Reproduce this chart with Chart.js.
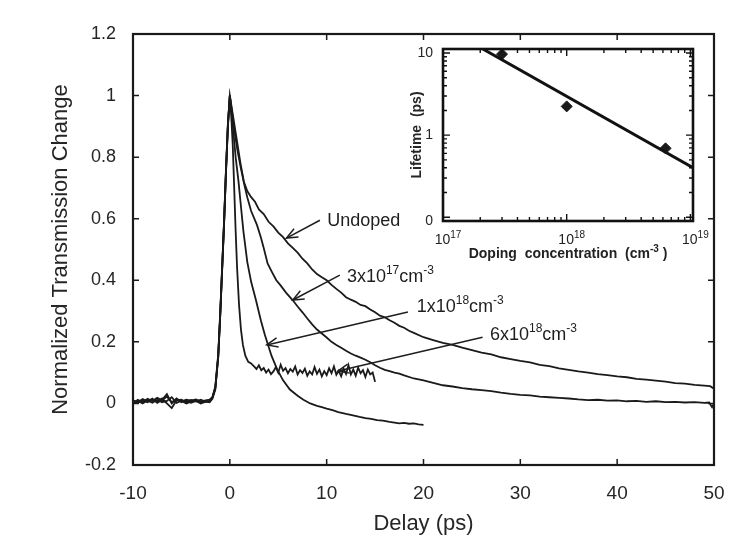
<!DOCTYPE html>
<html>
<head>
<meta charset="utf-8">
<script src="https://cdn.jsdelivr.net/npm/chart.js@4.4.1/dist/chart.umd.min.js"></script>
<style>
  body { margin: 0; background: #fff; }
  #wrap { position: relative; width: 733px; height: 541px; }
  #main { position: absolute; left: 0; top: 0; }
  #inset { position: absolute; left: 395px; top: 40px; }
</style>
</head>
<body>
<div id="wrap">
  <canvas id="main" width="733" height="541"></canvas>
  <canvas id="inset" width="320" height="225"></canvas>
</div>
<script>
// transient transmission traces, [delay ps, normalized change]
const undoped = [
  [-10,0.000],[-9.5,0.012],[-9,0.004],[-8.5,0.015],[-8,0.008],[-7.5,0.018],[-7,0.010],[-6.5,0.022],[-6,0.004],
  [-5.5,0.014],[-5,0.006],[-4.5,0.012],[-4,0.009],[-3.5,0.013],[-3,0.007],[-2.5,0.010],[-2.1,0.012],
  [-1.8,0.02],[-1.5,0.05],[-1.2,0.15],[-1.0,0.28],[-0.8,0.43],[-0.6,0.58],[-0.4,0.75],[-0.2,0.9],[0,1.0],
  [0.2,0.96],[0.5,0.9],[0.8,0.84],[1.1,0.78],[1.45,0.72],[1.8,0.69],[2.2,0.67],[2.6,0.655],[3.0,0.63],
  [3.5,0.615],[4.0,0.59],[4.5,0.575],[5.0,0.555],[5.5,0.54],[6.0,0.52],[6.5,0.505],[7.0,0.49],[7.5,0.47],
  [8.0,0.455],[8.5,0.435],[9,0.42],[9.5,0.41],[10,0.4],[10.5,0.385],[11,0.372],[11.5,0.36],[12,0.345],
  [12.5,0.337],[13,0.33],[13.5,0.32],[14,0.316],[14.5,0.305],[15,0.296],[15.5,0.285],[16,0.28],[16.5,0.27],
  [17,0.262],[17.5,0.252],[18,0.246],[18.5,0.236],[19,0.229],[20,0.215],[21,0.206],[22,0.197],[23,0.19],
  [24,0.181],[25,0.173],[26,0.165],[27,0.159],[28,0.15],[29,0.144],[30,0.138],[31,0.133],[32,0.125],
  [33,0.121],[34,0.114],[35,0.109],[36,0.104],[37,0.1],[38,0.095],[39,0.092],[40,0.088],[41,0.085],
  [42,0.08],[43,0.077],[44,0.074],[45,0.071],[46,0.066],[47,0.064],[48,0.06],[49,0.058],[49.6,0.056],[50,0.048]
];
const dop3e17 = [
  [-10,0.006],[-9.5,0.002],[-9,0.010],[-8.5,0.004],[-8,0.013],[-7.5,0.006],[-7,0.016],[-6.5,0.0],[-6,-0.015],
  [-5.5,0.01],[-5,0.012],[-4.5,0.004],[-4,0.011],[-3.5,0.006],[-3,0.012],[-2.5,0.005],[-2.1,0.008],
  [-1.8,0.02],[-1.5,0.055],[-1.2,0.16],[-1.0,0.29],[-0.8,0.44],[-0.6,0.59],[-0.4,0.76],[-0.2,0.91],[0,1.0],
  [0.2,0.95],[0.5,0.88],[0.8,0.82],[1.1,0.77],[1.5,0.71],[1.8,0.67],[2.2,0.625],[2.8,0.58],[3.2,0.54],
  [3.5,0.505],[3.9,0.455],[4.3,0.43],[4.8,0.4],[5.2,0.385],[5.8,0.36],[6.5,0.335],[7,0.315],[7.5,0.296],
  [8,0.276],[8.5,0.257],[9,0.24],[9.5,0.227],[10,0.214],[10.5,0.2],[11,0.19],[11.5,0.181],[12,0.171],
  [12.5,0.162],[13,0.155],[13.5,0.149],[14,0.142],[14.5,0.134],[15,0.124],[15.5,0.116],[16,0.109],
  [16.5,0.105],[17,0.1],[17.5,0.097],[18,0.091],[19,0.081],[20,0.075],[21,0.067],[22,0.059],[23,0.055],
  [24,0.05],[25,0.046],[26,0.043],[27,0.04],[28,0.035],[29,0.031],[30,0.028],[31,0.026],[32,0.022],
  [33,0.02],[34,0.018],[35,0.016],[36,0.013],[37,0.011],[38,0.012],[39,0.009],[40,0.01],[41,0.007],
  [42,0.008],[43,0.005],[44,0.007],[45,0.004],[46,0.005],[47,0.003],[48,0.004],[49,0.002],[49.5,0.003],
  [49.8,-0.012],[50,0.0]
];
const dop1e18 = [
  [-10,0.003],[-9.5,0.008],[-9,0.0],[-8.5,0.01],[-8,0.002],[-7.5,0.012],[-7,0.004],[-6.5,0.008],[-6,0.02],
  [-5.5,0.002],[-5,0.009],[-4.5,0.0],[-4,0.006],[-3.5,0.01],[-3,0.004],[-2.5,0.008],[-2.1,0.005],
  [-1.8,0.018],[-1.5,0.05],[-1.2,0.155],[-1.0,0.285],[-0.8,0.435],[-0.6,0.585],[-0.4,0.755],[-0.2,0.905],[0,1.0],
  [0.2,0.94],[0.4,0.87],[0.6,0.8],[0.9,0.72],[1.1,0.655],[1.4,0.56],[1.6,0.51],[1.8,0.46],[2.2,0.395],
  [2.7,0.335],[3.2,0.27],[3.6,0.225],[3.9,0.195],[4.3,0.155],[4.9,0.11],[5.5,0.075],[6.2,0.045],[7,0.025],
  [7.6,0.012],[8.3,0.0],[9,-0.008],[9.5,-0.012],[10,-0.017],[10.6,-0.022],[11.2,-0.028],[12,-0.034],
  [12.6,-0.038],[13.4,-0.044],[14,-0.048],[14.6,-0.05],[15.2,-0.054],[15.8,-0.056],[16.5,-0.06],
  [17,-0.062],[17.5,-0.065],[18,-0.063],[18.5,-0.066],[19,-0.065],[19.5,-0.068],[20,-0.07]
];
const dop6e18 = [
  [-10,0.01],[-9.5,0.004],[-9,0.014],[-8.5,0.006],[-8,0.016],[-7.5,0.002],[-7,0.012],[-6.5,0.03],[-6,0.0],
  [-5.5,0.016],[-5,0.004],[-4.5,0.01],[-4,0.002],[-3.5,0.008],[-3,0.0],[-2.5,0.006],[-2.1,0.004],
  [-1.8,0.015],[-1.5,0.045],[-1.2,0.15],[-1.0,0.28],[-0.8,0.43],[-0.6,0.58],[-0.4,0.75],[-0.2,0.9],[0,1.0],
  [0.15,0.93],[0.3,0.84],[0.45,0.7],[0.6,0.56],[0.75,0.44],[0.95,0.32],[1.15,0.24],[1.35,0.19],[1.6,0.155],
  [1.9,0.135],[2.2,0.13],[2.5,0.12],[2.75,0.112],[3.0,0.124],[3.25,0.108],[3.5,0.115],[3.75,0.1],[4.0,0.11],
  [4.25,0.095],[4.5,0.104],[4.75,0.118],[5.0,0.1],[5.25,0.126],[5.5,0.106],[5.75,0.115],[6.0,0.098],
  [6.25,0.112],[6.5,0.103],[6.75,0.12],[7.0,0.094],[7.25,0.108],[7.5,0.099],[7.75,0.113],[8.0,0.09],
  [8.25,0.104],[8.5,0.094],[8.75,0.118],[9.0,0.096],[9.25,0.11],[9.5,0.088],[9.75,0.105],[10.0,0.092],
  [10.25,0.114],[10.5,0.098],[10.75,0.12],[11.0,0.093],[11.25,0.106],[11.5,0.088],[11.75,0.112],[12.0,0.096],
  [12.25,0.124],[12.5,0.094],[12.75,0.11],[13.0,0.09],[13.25,0.116],[13.5,0.098],[13.75,0.108],[14.0,0.086],
  [14.25,0.11],[14.5,0.094],[14.75,0.1],[15.0,0.07]
];

// inset: lifetime vs doping
const dopingConc = [3e17, 1e18, 6.3e18];
const lifetimePs = [9.7, 2.24, 0.69];
const fitConc = [2.1e17, 1.05e19];
const fitLife = [11.2, 0.4];

const FONT = "'Liberation Sans', Arial, Helvetica, sans-serif";
Chart.defaults.font.family = FONT;
Chart.defaults.color = '#262626';

// arrow labels, positions in data units
const notes = [
  { parts: [['Undoped', false]], text: [10.05, 0.576], tail: [9.3, 0.595], head: [5.85, 0.537] },
  { parts: [['3x10', false], ['17', true], ['cm', false], ['-3', true]], text: [12.09, 0.394], tail: [11.36, 0.417], head: [6.5, 0.336] },
  { parts: [['1x10', false], ['18', true], ['cm', false], ['-3', true]], text: [19.3, 0.297], tail: [18.39, 0.297], head: [3.82, 0.19] },
  { parts: [['6x10', false], ['18', true], ['cm', false], ['-3', true]], text: [26.86, 0.206], tail: [26.1, 0.215], head: [11.16, 0.105] }
];

const toXY = pairs => pairs.map(p => ({x: p[0], y: p[1]}));

// draw text pieces, raising the superscript ones
function drawParts(ctx, parts, x, y, size, supSize, rise, weight) {
  parts.forEach(([s, sup]) => {
    ctx.font = (weight || '') + ' ' + (sup ? supSize : size) + 'px ' + FONT;
    ctx.fillText(s, x, sup ? y - rise : y);
    x += ctx.measureText(s).width;
  });
}
function partsWidth(ctx, parts, size, supSize, weight) {
  let w = 0;
  parts.forEach(([s, sup]) => {
    ctx.font = (weight || '') + ' ' + (sup ? supSize : size) + 'px ' + FONT;
    w += ctx.measureText(s).width;
  });
  return w;
}

//box + inward ticks for the main plot
const mainFrame = {
  id: 'mainFrame',
  afterDraw(chart) {
    const {ctx, chartArea: a, scales: {x, y}} = chart;
    ctx.save();
    ctx.strokeStyle = '#1a1a1a';
    ctx.lineWidth = 1.5;
    x.ticks.forEach(t => {
      const p = x.getPixelForValue(t.value);
      if (p <= a.left + 1 || p >= a.right - 1) return;
      ctx.beginPath();
      ctx.moveTo(p, a.bottom); ctx.lineTo(p, a.bottom - 6);
      ctx.moveTo(p, a.top); ctx.lineTo(p, a.top + 6);
      ctx.stroke();
    });
    y.ticks.forEach(t => {
      const p = y.getPixelForValue(t.value);
      if (p <= a.top + 1 || p >= a.bottom - 1) return;
      ctx.beginPath();
      ctx.moveTo(a.left, p); ctx.lineTo(a.left + 6, p);
      ctx.moveTo(a.right, p); ctx.lineTo(a.right - 6, p);
      ctx.stroke();
    });
    ctx.lineWidth = 2.2;
    ctx.strokeRect(a.left, a.top, a.right - a.left, a.bottom - a.top);
    ctx.restore();
  }
};

const arrowNotes = {
  id: 'arrowNotes',
  afterDatasetsDraw(chart) {
    const {ctx, scales: {x, y}} = chart;
    ctx.save();
    ctx.strokeStyle = '#1e1e1e';
    ctx.fillStyle = '#1e1e1e';
    ctx.lineWidth = 1.5;
    notes.forEach(n => {
      const tx = x.getPixelForValue(n.tail[0]), ty = y.getPixelForValue(n.tail[1]);
      const hx = x.getPixelForValue(n.head[0]), hy = y.getPixelForValue(n.head[1]);
      ctx.beginPath();
      ctx.moveTo(tx, ty); ctx.lineTo(hx, hy);
      ctx.stroke();
      const ang = Math.atan2(hy - ty, hx - tx);
      ctx.beginPath();
      ctx.moveTo(hx - 12 * Math.cos(ang - 0.4), hy - 12 * Math.sin(ang - 0.4));
      ctx.lineTo(hx, hy);
      ctx.lineTo(hx - 12 * Math.cos(ang + 0.4), hy - 12 * Math.sin(ang + 0.4));
      ctx.stroke();
      ctx.textAlign = 'left';
      ctx.textBaseline = 'alphabetic';
      drawParts(ctx, n.parts, x.getPixelForValue(n.text[0]), y.getPixelForValue(n.text[1]), 18, 12, 8);
    });
    ctx.restore();
  }
};

new Chart(document.getElementById('main'), {
  type: 'line',
  data: {
    datasets: [undoped, dop3e17, dop1e18, dop6e18].map(tr => ({
      data: toXY(tr),
      borderColor: '#1a1a1a',
      borderWidth: 1.8,
      pointRadius: 0,
      tension: 0,
      fill: false
    }))
  },
  options: {
    responsive: false,
    animation: false,
    devicePixelRatio: 1,
    layout: { padding: { top: 34, right: 19, left: 0, bottom: 0 } },
    plugins: { legend: { display: false }, tooltip: { enabled: false } },
    scales: {
      x: {
        type: 'linear', min: -10, max: 50,
        ticks: { stepSize: 10, font: { size: 19 }, padding: 17, maxRotation: 0 },
        grid: { display: false, drawTicks: false },
        border: { display: false },
        title: { display: true, text: 'Delay (ps)', font: { size: 22 }, padding: { top: 0, bottom: 4 } },
        afterFit: s => { s.height = 76; s.paddingLeft = 0; s.paddingRight = 0; }
      },
      y: {
        min: -0.2, max: 1.2,
        ticks: {
          stepSize: 0.2, font: { size: 18 }, padding: 17,
          callback: v => { const r = Math.round(v * 10) / 10; return r === 0 ? '0' : String(r); }
        },
        grid: { display: false, drawTicks: false },
        border: { display: false },
        title: { display: true, text: 'Normalized Transmission Change', font: { size: 22 }, padding: { top: 48, bottom: 0 } },
        afterFit: s => { s.width = 133; s.paddingTop = 0; s.paddingBottom = 0; }
      }
    }
  },
  plugins: [mainFrame, arrowNotes]
});

const tickLen = v => {
  const s = v / Math.pow(10, Math.floor(Math.log10(v) + 1e-9));
  if (Math.abs(s - Math.round(s)) > 1e-6) return 0;
  return Math.round(s) === 1 ? 7 : 4;
};
const isDecade = v => Math.abs(Math.log10(v) - Math.round(Math.log10(v))) < 1e-6;

//inset frame with log minor ticks, decade labels and x title
const insetFrame = {
  id: 'insetFrame',
  afterDraw(chart) {
    const {ctx, chartArea: a, scales: {x, y}} = chart;
    ctx.save();
    ctx.strokeStyle = '#111';
    ctx.fillStyle = '#222';
    ctx.lineWidth = 1.4;
    x.ticks.forEach(t => {
      const L = tickLen(t.value), p = x.getPixelForValue(t.value);
      if (L && p > a.left + 1 && p < a.right - 1) {
        ctx.beginPath();
        ctx.moveTo(p, a.bottom); ctx.lineTo(p, a.bottom - L);
        ctx.moveTo(p, a.top); ctx.lineTo(p, a.top + L);
        ctx.stroke();
      }
      if (isDecade(t.value)) {
        const parts = [['10', false], [String(Math.round(Math.log10(t.value))), true]];
        ctx.textBaseline = 'alphabetic';
        ctx.textAlign = 'left';
        const w = partsWidth(ctx, parts, 14, 10);
        drawParts(ctx, parts, p - w / 2 + 5, a.bottom + 23, 14, 10, 6);
      }
    });
    y.ticks.forEach(t => {
      const L = tickLen(t.value), p = y.getPixelForValue(t.value);
      if (!L || p <= a.top + 1 || p >= a.bottom - 1) return;
      ctx.beginPath();
      ctx.moveTo(a.left, p); ctx.lineTo(a.left + L, p);
      ctx.moveTo(a.right, p); ctx.lineTo(a.right - L, p);
      ctx.stroke();
    });
    ctx.lineWidth = 2.6;
    ctx.strokeRect(a.left, a.top, a.right - a.left, a.bottom - a.top);

    const title = [['Doping  concentration  (cm', false], ['-3', true], [' )', false]];
    ctx.textAlign = 'left';
    ctx.textBaseline = 'alphabetic';
    const tw = partsWidth(ctx, title, 14, 10, 'bold');
    drawParts(ctx, title, (a.left + a.right) / 2 - tw / 2, a.bottom + 37, 14, 10, 6, 'bold');
    ctx.restore();
  }
};

new Chart(document.getElementById('inset'), {
  data: {
    datasets: [
      {
        type: 'line',
        data: fitConc.map((c, i) => ({x: c, y: fitLife[i]})),
        borderColor: '#111', borderWidth: 3, pointRadius: 0
      },
      {
        type: 'scatter',
        data: dopingConc.map((c, i) => ({x: c, y: lifetimePs[i]})),
        pointStyle: 'rectRot', pointRadius: 5.5,
        backgroundColor: '#1a1a1a', borderColor: '#1a1a1a'
      }
    ]
  },
  options: {
    responsive: false,
    animation: false,
    devicePixelRatio: 1,
    layout: { padding: { top: 9, right: 22, left: 0, bottom: 0 } },
    plugins: { legend: { display: false }, tooltip: { enabled: false } },
    scales: {
      x: {
        type: 'logarithmic', min: 1e17, max: 1.05e19,
        ticks: { display: false },
        grid: { display: false, drawTicks: false },
        border: { display: false },
        afterFit: s => { s.height = 44; s.paddingLeft = 0; s.paddingRight = 0; }
      },
      y: {
        type: 'logarithmic', min: 0.09, max: 11.2,
        ticks: {
          autoSkip: false, font: { size: 14 }, padding: 10,
          callback: (v, i) => i === 0 ? '0' : (Math.abs(v - 10) < 1e-9 ? '10' : (Math.abs(v - 1) < 1e-9 ? '1' : ''))
        },
        grid: { display: false, drawTicks: false },
        border: { display: false },
        title: { display: true, text: 'Lifetime  (ps)', font: { size: 14, weight: 'bold' }, padding: { top: 14, bottom: 0 } },
        afterFit: s => { s.width = 48; s.paddingTop = 0; s.paddingBottom = 0; }
      }
    }
  },
  plugins: [insetFrame]
});
</script>
</body>
</html>
